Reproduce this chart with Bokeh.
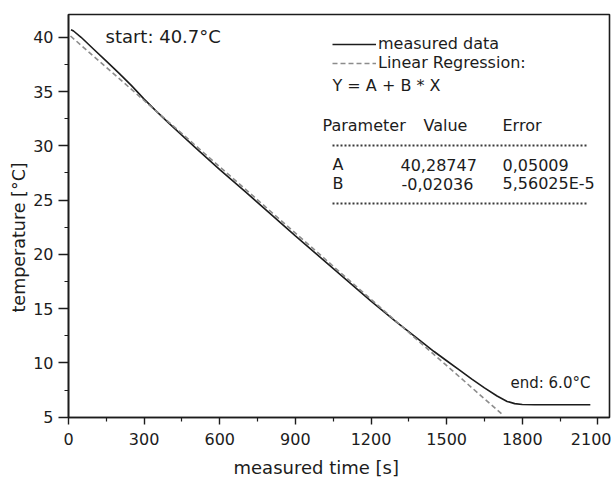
from bokeh.plotting import figure
from bokeh.models import Label, Range1d, FixedTicker, Legend, LegendItem, Title
from bokeh.embed import file_html
from bokeh.resources import INLINE

# ---- data ----
time_s = [10, 20, 50, 100, 150, 200, 250, 300, 350, 400, 500, 600, 700, 800, 900,
          1000, 1100, 1200, 1300, 1400, 1450, 1500, 1550, 1600, 1650, 1700, 1740,
          1770, 1800, 1850, 1900, 1950, 2000, 2050, 2070]
temp_c = [40.7, 40.58, 40.0, 38.9, 37.8, 36.7, 35.55, 34.3, 33.15, 32.05, 29.9,
          27.8, 25.8, 23.75, 21.7, 19.7, 17.7, 15.7, 13.77, 11.95, 11.05, 10.2,
          9.35, 8.5, 7.7, 6.95, 6.45, 6.25, 6.17, 6.15, 6.15, 6.15, 6.15, 6.15, 6.15]

reg_time = [8, 1722]
reg_temp = [40.12, 5.23]

x_ticks = [0, 300, 600, 900, 1200, 1500, 1800, 2100]
x_minor = [150, 450, 750, 1050, 1350, 1650, 1950]
y_ticks = [5, 10, 15, 20, 25, 30, 35, 40]
y_minor = [7.5, 12.5, 17.5, 22.5, 27.5, 32.5, 37.5]

param_names = ["A", "B"]
param_values = ["40,28747", "-0,02036"]
param_errors = ["0,05009", "5,56025E-5"]

# ---- layout ----
X0, X1 = 0, 2146
Y0, Y1 = 4.97, 42.1
FL, FR, FT, FB = 68, 609, 14, 417  # frame edges in page pixels


def px_x(px):
    return X0 + (px - FL) * (X1 - X0) / (FR - FL)


def px_y(py):
    return Y0 + (FB - py) * (Y1 - Y0) / (FB - FT)


FONT = "DejaVu Sans"
INK = "#1c1c1c"

p = figure(width=611, height=477, output_backend="svg", toolbar_location=None,
           x_range=Range1d(X0, X1), y_range=Range1d(Y0, Y1),
           min_border_left=68, min_border_right=2, min_border_top=14,
           min_border_bottom=60)
p.xgrid.visible = False
p.ygrid.visible = False
p.background_fill_color = "white"
p.border_fill_color = "white"
p.outline_line_color = INK
p.outline_line_width = 1.6

p.xaxis.ticker = FixedTicker(ticks=x_ticks, minor_ticks=x_minor)
p.yaxis.ticker = FixedTicker(ticks=y_ticks, minor_ticks=y_minor)
for ax in (p.xaxis[0], p.yaxis[0]):
    ax.axis_line_color = INK
    ax.axis_line_width = 1.6
    ax.major_tick_line_color = INK
    ax.minor_tick_line_color = INK
    ax.major_tick_line_width = 1.4
    ax.minor_tick_line_width = 1.2
    ax.major_tick_in = 0
    ax.minor_tick_in = 0
    ax.major_label_text_font = FONT
    ax.major_label_text_font_size = "16px"
    ax.major_label_text_color = INK
p.xaxis.major_tick_out = 7
p.xaxis.minor_tick_out = 4
p.yaxis.major_tick_out = 10
p.yaxis.minor_tick_out = 4
p.xaxis.major_label_standoff = 8
p.yaxis.major_label_standoff = 5

r_meas = p.line(time_s, temp_c, line_color=INK, line_width=1.6)
r_reg = p.line(reg_time, reg_temp, line_color="#8c8c8c", line_width=1.6,
               line_dash="5 3")

legend = Legend(items=[LegendItem(label="measured data", renderers=[r_meas]),
                       LegendItem(label="Linear Regression:", renderers=[r_reg])],
                location=(264, 345), orientation="vertical", padding=0, margin=0,
                spacing=0, glyph_width=44, glyph_height=18, label_height=18,
                label_standoff=2, label_text_font=FONT,
                label_text_font_size="16px", label_text_color=INK,
                background_fill_alpha=0, border_line_alpha=0)
p.add_layout(legend)


def label(text, px, py, size, align="left"):
    p.add_layout(Label(x=px_x(px), y=px_y(py), text=text, text_font=FONT,
                       text_font_size=size, text_color=INK, text_align=align,
                       text_baseline="middle"))


label("start: 40.7°C", 105, 36, "18px")
label("end: 6.0°C", 510, 382, "15px")
label("Y = A + B * X", 332, 85, "16px")
label("Parameter", 322, 125, "16px")
label("Value", 423, 125, "16px")
label("Error", 502, 125, "16px")
rows_y = [164, 183]
value_x = [400, 401]
for name, val, err, ry, vx in zip(param_names, param_values, param_errors, rows_y, value_x):
    label(name, 332, ry, "16px")
    label(val, vx, ry, "16px")
    label(err, 502, ry, "16px")

rule_y = [145, 203]
p.segment(x0=[px_x(332)] * 2, x1=[px_x(588)] * 2,
          y0=[px_y(v) for v in rule_y], y1=[px_y(v) for v in rule_y],
          line_color="#3a3a3a", line_width=2, line_dash="2 2")

# small spacer between the tick labels and the x-axis title
spacer = Title(text=" ", text_font=FONT, text_font_size="4px", standoff=0)
p.add_layout(spacer, "below")
xt = Title(text="measured time [s]", align="left", offset=233 - FL,
           text_font=FONT, text_font_size="18px", text_font_style="normal",
           text_color=INK, standoff=0)
p.add_layout(xt, "below")
yt = Title(text="temperature [°C]", align="left", offset=FB - 312,
           text_font=FONT, text_font_size="17.5px", text_font_style="normal",
           text_color=INK, standoff=3)
p.add_layout(yt, "left")

open("out.html", "w").write(file_html(p, INLINE))
